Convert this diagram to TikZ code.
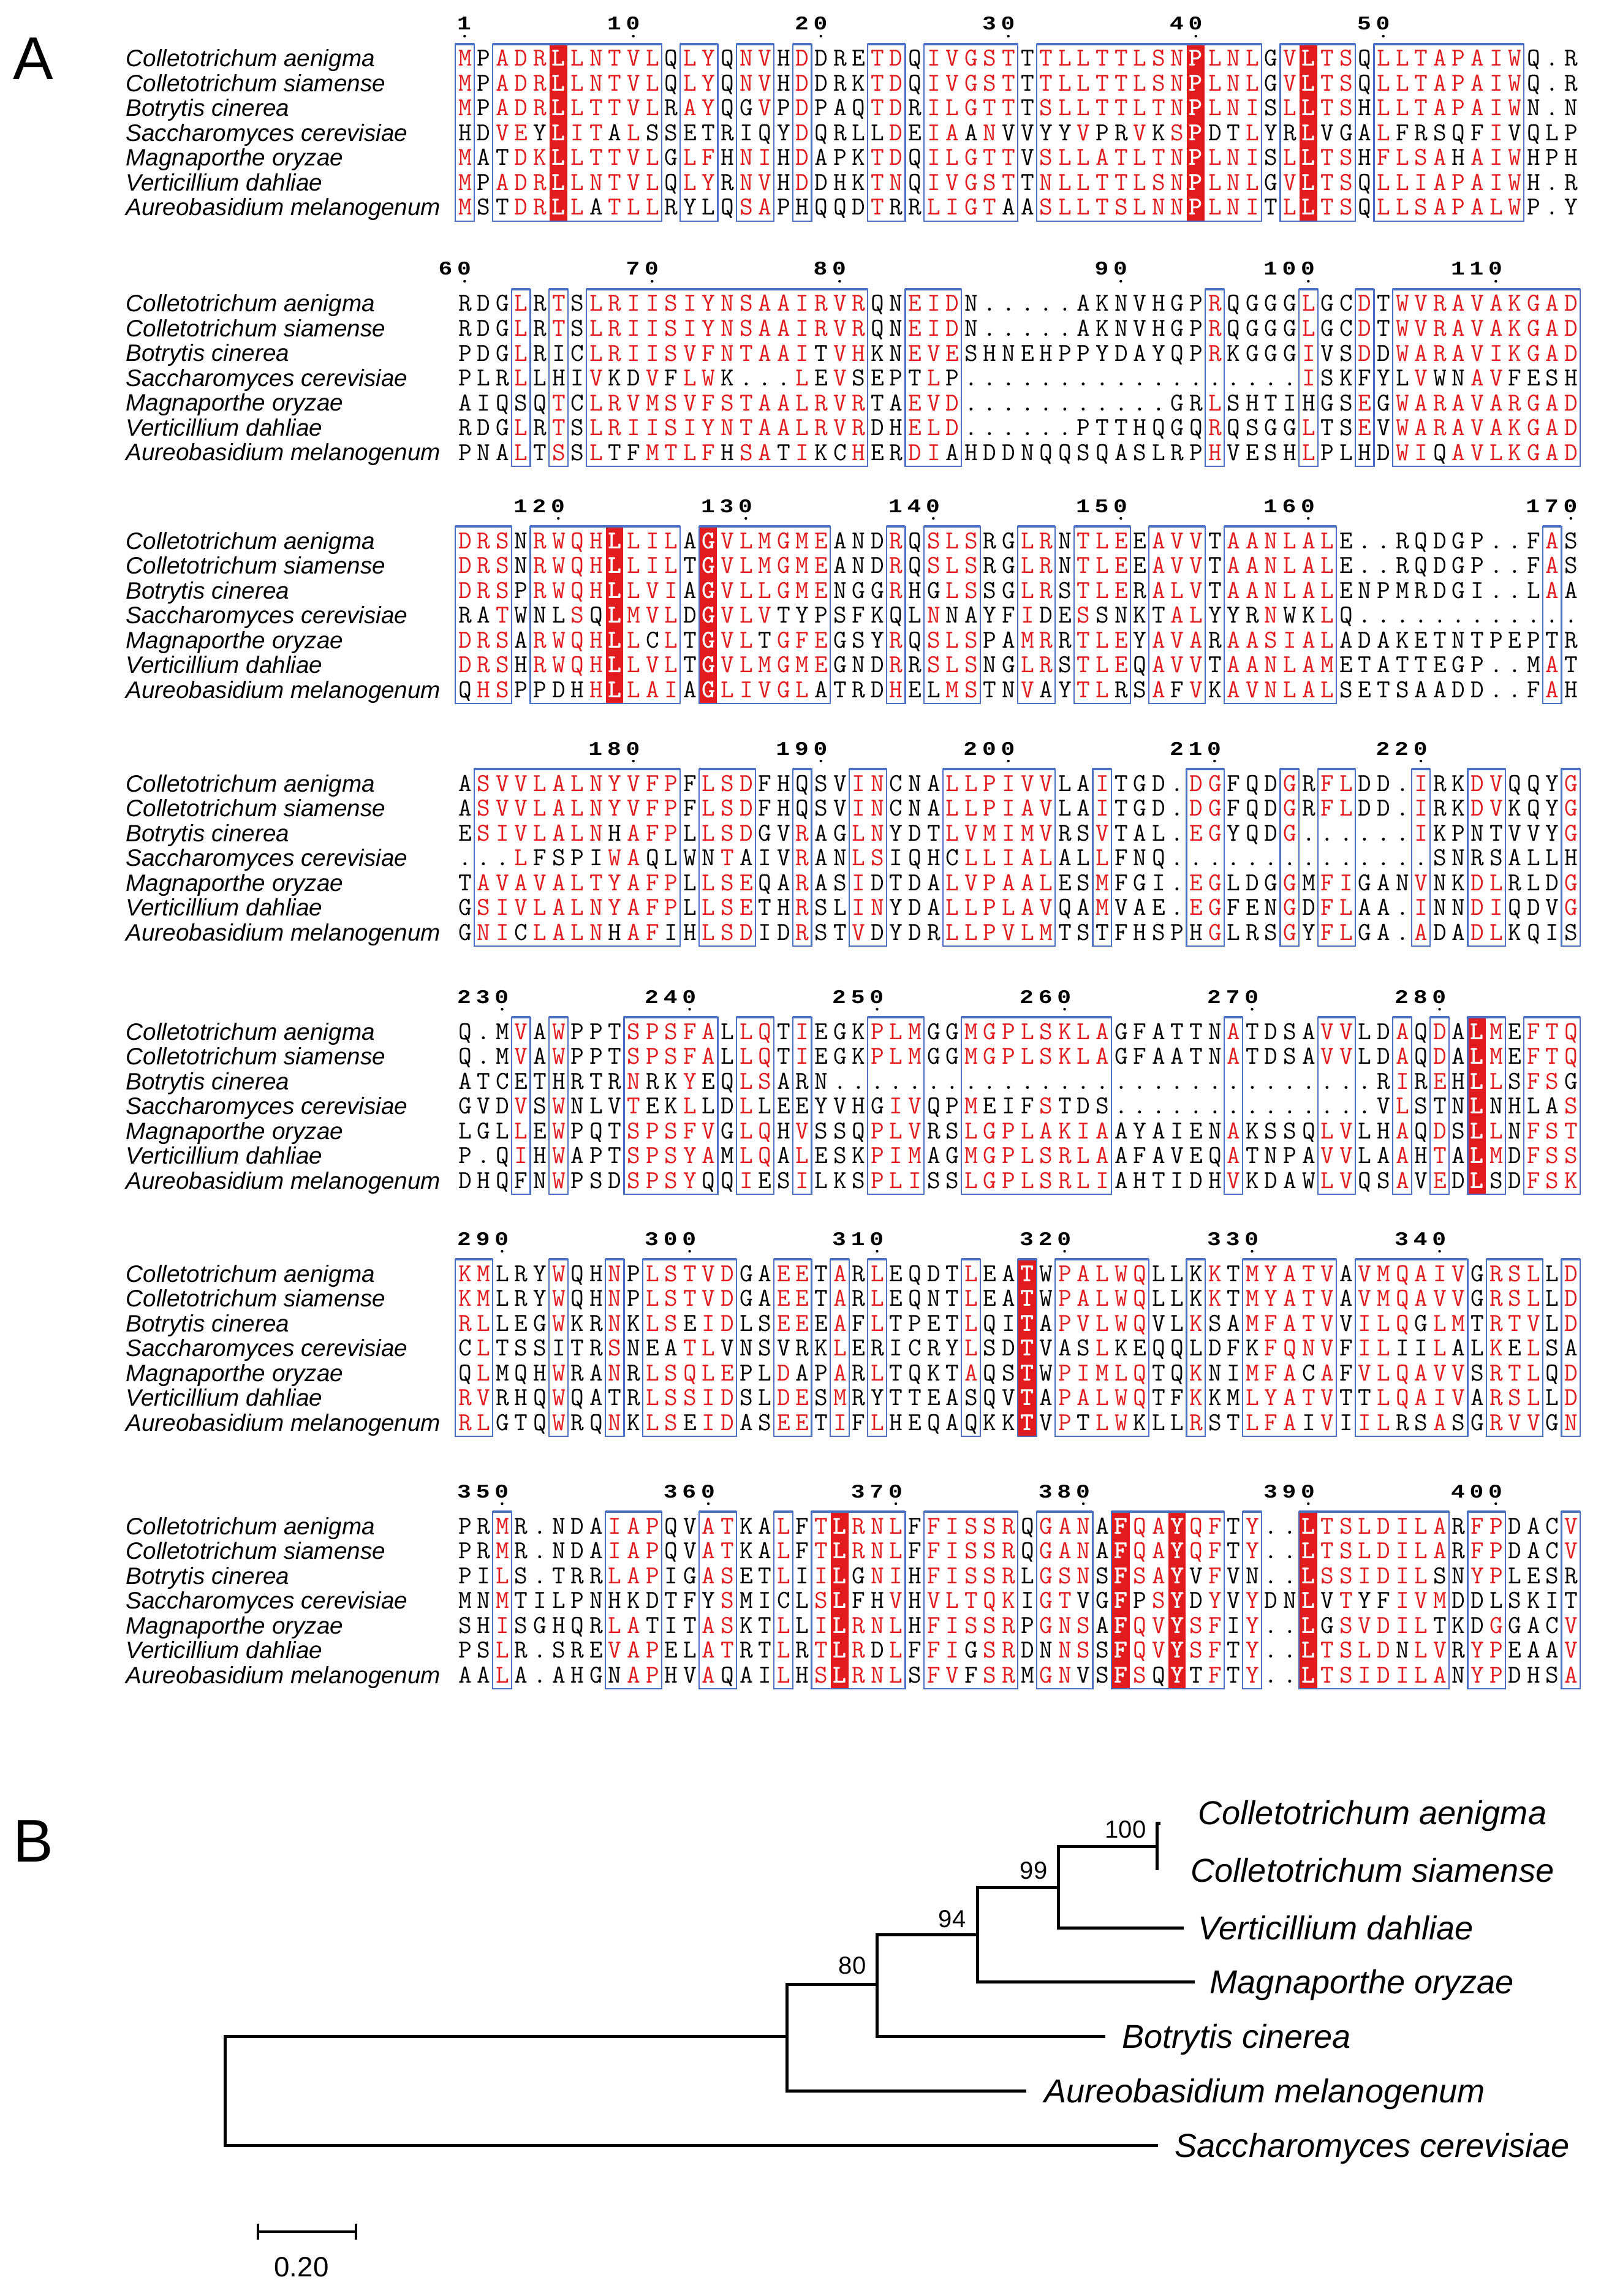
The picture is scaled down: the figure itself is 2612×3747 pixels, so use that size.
\documentclass[tikz,border=0pt]{standalone}
\usepackage{fontspec}
\setmainfont{Liberation Sans}
\newfontfamily\numfont{Liberation Mono}
\usepackage{graphicx}
\usetikzlibrary{positioning}

\definecolor{alnred}{RGB}{226,28,30}
\definecolor{alnblue}{RGB}{74,112,196}

% alignment grid (1 unit = 0.1 mm)
\newcommand\colx{743}
\newcommand\colw{30.6}
\newcommand\rowh{40.5}

\makeatletter
% lower case = red residue, upper case = black residue, spaces ignored;
% columns listed in \conslist are left empty (drawn white on red)
\newcount\seq@col
\def\conslist{}
\def\seqfmt#1{\seq@col=0\relax\seq@loop#1\@nil}
\def\seq@loop#1{\ifx#1\@nil\else\seq@char{#1}\expandafter\seq@loop\fi}
\def\seq@char#1{\advance\seq@col by 1\relax
  \edef\seq@tmp{\noexpand\in@{,\the\seq@col/}{,\conslist,}}\seq@tmp
  \ifin@\makebox[3.06mm]{}\else
  \makebox[3.06mm]{\ifnum\lccode`#1=`#1\relax\textcolor{alnred}{\uppercase{#1}}\else#1\fi}\fi}
% one digit per column
\def\numfmt#1{\num@loop#1\@nil}
\def\num@loop#1{\ifx#1\@nil\else\makebox[3.06mm]{\scalebox{1.2}[1]{#1}}\expandafter\num@loop\fi}
\makeatother

% names + seven sequence rows of one block
\newcommand\alnrows[9]{%
  \foreach \nm [count=\rr] in {Colletotrichum aenigma,Colletotrichum siamense,Botrytis cinerea,Saccharomyces cerevisiae,Magnaporthe oryzae,Verticillium dahliae,Aureobasidium melanogenum}
    \node[seqname] (n#1-\rr) at (205,{#2+(\rr-1)*\rowh+14}) {\nm};
  \node[seqtext] (s#1-1) at (\colx,{#2+13}) {\seqfmt{#3}};
  \node[seqtext] (s#1-2) at (\colx,{#2+\rowh+13}) {\seqfmt{#4}};
  \node[seqtext] (s#1-3) at (\colx,{#2+2*\rowh+13}) {\seqfmt{#5}};
  \node[seqtext] (s#1-4) at (\colx,{#2+3*\rowh+13}) {\seqfmt{#6}};
  \node[seqtext] (s#1-5) at (\colx,{#2+4*\rowh+13}) {\seqfmt{#7}};
  \node[seqtext] (s#1-6) at (\colx,{#2+5*\rowh+13}) {\seqfmt{#8}};
  \node[seqtext] (s#1-7) at (\colx,{#2+6*\rowh+13}) {\seqfmt{#9}};
}
% blue boxes and position numbers
\newcommand\alnframe[4]{%
  \foreach \ca/\cb in {#3} {
    \draw[seqbox] ({\colx+(\ca-1)*\colw},{#2-23}) rectangle ({\colx+\cb*\colw},{#2+6*\rowh+23});
    \draw[seqtop] ({\colx+(\ca-1)*\colw},{#2-23}) -- ({\colx+\cb*\colw},{#2-23});
  }
  \foreach \cc/\lab in {#4} {
    \node[posnum] (p#1-\lab) at ({\colx+\cc*\colw},{#2-46}) {\expandafter\numfmt\expandafter{\lab}};
    \fill ({\colx+(\cc-0.5)*\colw},{#2-36}) circle[radius=0.22mm];
  }
  \gdef\conslist{}%
}
% strictly conserved columns (white on red)
\newcommand\conscols[3]{%
  \gdef\conslist{#3}%
  \foreach \cc/\lt in {#3} {
    \fill[alnred] ({\colx+(\cc-1)*\colw+1},{#2-23}) rectangle ({\colx+\cc*\colw-1},{#2+6*\rowh+23});
    \foreach \rr in {1,...,7}
      \node[whiteres] (w#1-\cc-\rr) at ({\colx+(\cc-0.5)*\colw},{#2+(\rr-1)*\rowh+13}) {\lt};
  }
}

\begin{document}
\begin{tikzpicture}[x=0.1mm, y=-0.1mm]

% Define styles
\tikzset{
  seqtext/.style={anchor=base west, inner sep=0pt, font=\ttfamily\fontsize{12}{12}\selectfont},
  seqname/.style={anchor=base west, inner sep=0pt, font=\itshape\fontsize{11}{12}\selectfont},
  whiteres/.style={anchor=base, inner sep=0pt, text=white, font=\ttfamily\bfseries\fontsize{12}{12}\selectfont},
  posnum/.style={anchor=base east, inner sep=0pt, font=\numfont\bfseries\fontsize{9}{9}\selectfont},
  seqbox/.style={draw=alnblue, line width=0.22mm},
  seqtop/.style={draw=alnblue, line width=0.45mm},
  panel/.style={inner sep=0pt, font=\fontsize{28}{30}\selectfont},
  branch/.style={line width=0.5mm},
  taxon/.style={inner sep=0pt, text height=11pt, text depth=0pt, font=\itshape\fontsize{15.4}{17}\selectfont},
  boot/.style={inner sep=0pt, font=\fontsize{11.4}{12}\selectfont},
  scalebar/.style={line width=0.4mm}
}

\useasboundingbox (0,0) rectangle (2612,3747);

% Panel A
\node[panel] (pa) at (54,96) {A};

% block 1
\conscols{1}{95}{6/L,40/P,46/L}
\alnrows{1}{95}
 {mPadrllntv lQlyQnvHdD REtdQivgst Ttllttlsnp lnlGvltsQl ltapaiwQ.R}
 {mPadrllntv lQlyQnvHdD RKtdQivgst Ttllttlsnp lnlGvltsQl ltapaiwQ.R}
 {mPadrllttv lRayQGvPdP AQtdRilgtt Tsllttltnp lniSlltsHl ltapaiwN.N}
 {HDveYlitAl SSETRIQYdQ RLLdEiaAnV VYYvPRvKsp DTlYRlVGAl FRSQFiVQLP}
 {mATdkllttv lGlfHniHdA PKtdQilgtt Vsllatltnp lniSlltsHf lsaHaiwHPH}
 {mPadrllntv lQlyRnvHdD HKtnQivgst Tnllttlsnp lnlGvltsQl liapaiwH.R}
 {mSTdrllAtl lRYLQsaPHQ QDtRRligtA Aslltslnnp lniTlltsQl lsapalwP.Y}
\alnframe{1}{95}{1/1,3/11,13/14,16/17,19/19,23/24,26/30,32/43,45/48,50/57}{1/1,10/10,20/20,30/30,40/40,50/50}

% block 2
\alnrows{2}{495}
 {RDGlRtSlri isiynsaair vrQNeidN.. ...AKNVHGP rQGGGlGCdT wvravakgad}
 {RDGlRtSlri isiynsaair vrQNeidN.. ...AKNVHGP rQGGGlGCdT wvravakgad}
 {PDGlRIClri isvfntaaiT vhKNeveSHN EHPPYDAYQP rKGGGiVSdD waravikgad}
 {PLRlLHIvKD vFlwK...lE vSEPTlP... .......... .....iSKFY LvWNavFESH}
 {AIQSQtClrv msvfstaalr vrTAevd... ........GR lSHTIHGSeG waravargad}
 {RDGlRtSlri isiyntaalr vrDHeld... ...PTTHQGQ rQSGGlTSeV waravakgad}
 {PNAlTsSlTF mtlfHsaTiK ChERdiAHDD NQQSQASLRP hVESHlPLHD wiQavlkgad}
\alnframe{2}{495}{4/4,6/6,8/22,25/27,41/41,46/46,49/49,51/60}{1/60,11/70,21/80,36/90,46/100,56/110}

% block 3
\conscols{3}{882}{9/L,14/G}
\alnrows{3}{882}
 {drsNrwqhll ilAgvlmgme ANDrQslsRG lrNtleEavv TaanlalE.. RQDGP..FaS}
 {drsNrwqhll ilTgvlmgme ANDrQslsRG lrNtleEavv TaanlalE.. RQDGP..FaS}
 {drsPrwqhll viAgvllgme NGGrHGlsSG lrStleRalv TaanlalENP MRDGI..LaA}
 {RAtWNLsQlm vlDgvlvTYP SFKQLnNAYF iDEsSNKTal YYRnWKlQ.. ..........}
 {drsArwqhll ClTgvlTgfe GSYrQslsPA mrRtleYava RaasialADA KETNTPEPTR}
 {drsHrwqhll vlTgvlmgme GNDrRslsNG lrStleQavv TaanlamETA TTEGP..MaT}
 {QhsPPDHhll aiAglivglA TRDhELmsTN vAYtlRSaFv KavnlalSET SAADD..FaH}
\alnframe{3}{882}{1/3,5/12,14/20,24/24,26/28,31/32,34/36,38/40,42/47,59/59}{6/120,16/130,26/140,36/150,46/160,60/170}

% block 4
\alnrows{4}{1278}
 {Asvvlalnyv fpFlsdFHQS VinCNAllpi vvLAiTGD.d gFQDgRflDD .iRKdvQQYg}
 {Asvvlalnyv fpFlsdFHQS VinCNAllpi avLAiTGD.d gFQDgRflDD .iRKdvKQYg}
 {EsivlalnHa fpLlsdGVrA GlnYDTlvmi mvRSvTAL.e gYQDg..... .iKPNTVVYg}
 {...lFSPIwa QLWNtAIVrA NlsIQHClli alALlFNQ.. .......... ..SNRSALLH}
 {Tavavaltya fpLlseQArA SiDTDAlvpa alESmFGI.e gLDGgMfiGA NvNKdlRLDg}
 {Gsivlalnya fpLlseTHrS LinYDAllpl avQAmVAE.e gFENgDflAA .iNNdiQDVg}
 {GniClalnHa fIHlsdIDrS TvDYDRllpv lmTSTFHSPH gLRSgYflGA .aDAdlKQIS}
\alnframe{4}{1278}{2/12,14/16,19/19,22/23,27/32,35/35,40/41,45/45,47/48,52/52,55/56,60/60}{10/180,20/190,30/200,41/210,52/220}

% block 5
\conscols{5}{1683}{55/L}
\alnrows{5}{1683}
 {Q.MvAwPPTs psfaLlqTiE GKplmGGmgp lsklaGFATT NaTDSAvvLD aQdAlmEftq}
 {Q.MvAwPPTs psfaLlqTiE GKplmGGmgp lsklaGFAAT NaTDSAvvLD aQdAlmEftq}
 {ATCETHRTRn RKyEQlsARN .......... .......... .........R iReHllSfsG}
 {GVDvSwNLVt EKlLDlLEEY VHGivQPmEI FsTDS..... .........V lSTNlNHLAs}
 {LGLlEwPQTs psfvGlqHvS SQplvRSlgp lakiaAYAIE NaKSSQlvLH aQdSllNfst}
 {P.QiHwAPTs psyaMlqAlE SKpimAGmgp lsrlaAFAVE QaTNPAvvLA aHtAlmDfss}
 {DHQFNwPSDs psyQQiESiL KSpliSSlgp lsrliAHTID HvKDAWlvQS aVeDlSDfsk}
\alnframe{5}{1683}{4/4,6/6,10/14,16/17,19/19,23/25,28/35,42/42,47/48,51/51,53/53,55/56,58/60}{3/230,13/240,23/250,33/260,43/270,53/280}

% block 6
\conscols{6}{2078}{31/T}
\alnrows{6}{2078}
 {kmLRYwQHnP lstvdGAeeT aRlEQDTlEA tWpalwqLLK kTmyatvAvm qaivGrslLd}
 {kmLRYwQHnP lstvdGAeeT aRlEQNTlEA tWpalwqLLK kTmyatvAvm qavvGrslLd}
 {rlLEGwKRnK lsEidLSeeE aFlTPETlQI tApvlwqVLk SAmfatvVil qGlmTrtvLd}
 {ClTSSITRsN EAtlVNSVRK lERICRYlSD tVASlKEQQL DFKfqnvFil IIlALkElSA}
 {QlMQHwRAnR lsqlePLdAP aRlTQKTaQS tWpimlqTQk NImfaCaFvl qavvSrtlQd}
 {rvRHQwQATR lssidSLdeS mRYTTEASQV tApalwqTFk KMlyatvTTl qaivArslLd}
 {rlGTQwRQnK lsEidASeeT iFlHEQAQKK tVpTlwKLLr STlfaIvIil RSaSGrvvGn}
\alnframe{6}{2078}{1/2,6/6,9/9,11/15,18/19,21/21,23/23,28/28,31/31,33/37,40/40,43/47,49/54,56/58,60/60}{3/290,13/300,23/310,33/320,43/330,53/340}

% block 7
\conscols{7}{2490}{21/L,36/F,39/Y,46/L}
\alnrows{7}{2490}
 {PRmR.NDAia pQVatKAlFt lrnlFfissr QganAfqayq fTy..ltsld ilaRfpDACv}
 {PRmR.NDAia pQVatKAlFt lrnlFfissr QganAfqayq fTy..ltsld ilaRfpDACv}
 {PIlS.TRRla pIGasETlIi lGniHfissr LgsnSfsayV fVN..lssid ilSNypLESR}
 {MNmTILPNHK DTFYsMICLs lFHvHvltqk IgtVGfPsyD yVyDNlVtYF ivmDDLSKIT}
 {SHiSGHQRla TITasKTlLi lrnlHfissr PgnsAfqvys fIy..lGsvd ilTKDgGACv}
 {PSlR.SREva pELatRTlRt lrDlFfiGsr DNnsSfqvys fTy..ltsld NlvRypEAAv}
 {AAlA.AHGNa pHVaQAIlHs lrnlSfvFsr MgnVSfsQyT fTy..ltsid ilaNypDHSa}
\alnframe{7}{2490}{3/3,9/11,14/15,18/18,20/24,26/30,32/34,36/41,43/43,46/53,55/56,60/60}{3/350,14/360,24/370,34/380,46/390,56/400}

% Panel B
\node[panel] (pb) at (54,3005) {B};

% tree nodes
\coordinate (nroot) at (367,3411);
\coordinate (nA) at (1284,3323);
\coordinate (nB) at (1431,3238);
\coordinate (nC) at (1595,3157);
\coordinate (nD) at (1727,3080);
\coordinate (nE) at (1888,3013);
\coordinate (tipAen) at (1894,2975);
\coordinate (tipSia) at (1888,3052);
\coordinate (tipVer) at (1932,3146);
\coordinate (tipMag) at (1950,3234);
\coordinate (tipBot) at (1804,3323);
\coordinate (tipAur) at (1675,3412);
\coordinate (tipSac) at (1890,3501);

% branches
\draw[branch] (nA) -| (nroot) |- (tipSac);
\draw[branch] (nB) -| (nA) |- (tipAur);
\draw[branch] (nC) -| (nB) |- (tipBot);
\draw[branch] (nD) -| (nC) |- (tipMag);
\draw[branch] (nE) -| (nD) |- (tipVer);
\draw[branch] (tipAen) -| (nE) |- (tipSia);

% taxa
\node[taxon, right=6.1mm of tipAen, yshift=1.7mm] (tAen) {Colletotrichum aenigma};
\node[taxon, right=5.5mm of tipSia] (tSia) {Colletotrichum siamense};
\node[taxon, right=2.3mm of tipVer] (tVer) {Verticillium dahliae};
\node[taxon, right=2.4mm of tipMag] (tMag) {Magnaporthe oryzae};
\node[taxon, right=2.7mm of tipBot] (tBot) {Botrytis cinerea};
\node[taxon, right=2.9mm of tipAur] (tAur) {Aureobasidium melanogenum};
\node[taxon, right=2.7mm of tipSac] (tSac) {Saccharomyces cerevisiae};

% bootstrap values
\node[boot, above left=1.2mm and 1.7mm of nE] (bE) {100};
\node[boot, above left=1.2mm and 1.7mm of nD] (bD) {99};
\node[boot, above left=1.0mm and 1.8mm of nC] (bC) {94};
\node[boot, above left=1.5mm and 1.7mm of nB] (bB) {80};

% scale bar
\coordinate (sbl) at (421,3642);
\coordinate (sbr) at (581,3642);
\draw[scalebar] (sbl) -- (sbr);
\draw[scalebar] ([yshift=1.3mm]sbl) -- ([yshift=-1.3mm]sbl);
\draw[scalebar] ([yshift=1.3mm]sbr) -- ([yshift=-1.3mm]sbr);
\node[inner sep=0pt, font=\fontsize{13}{14}\selectfont] (sblab) at (492,3700) {0.20};

\end{tikzpicture}
\end{document}
